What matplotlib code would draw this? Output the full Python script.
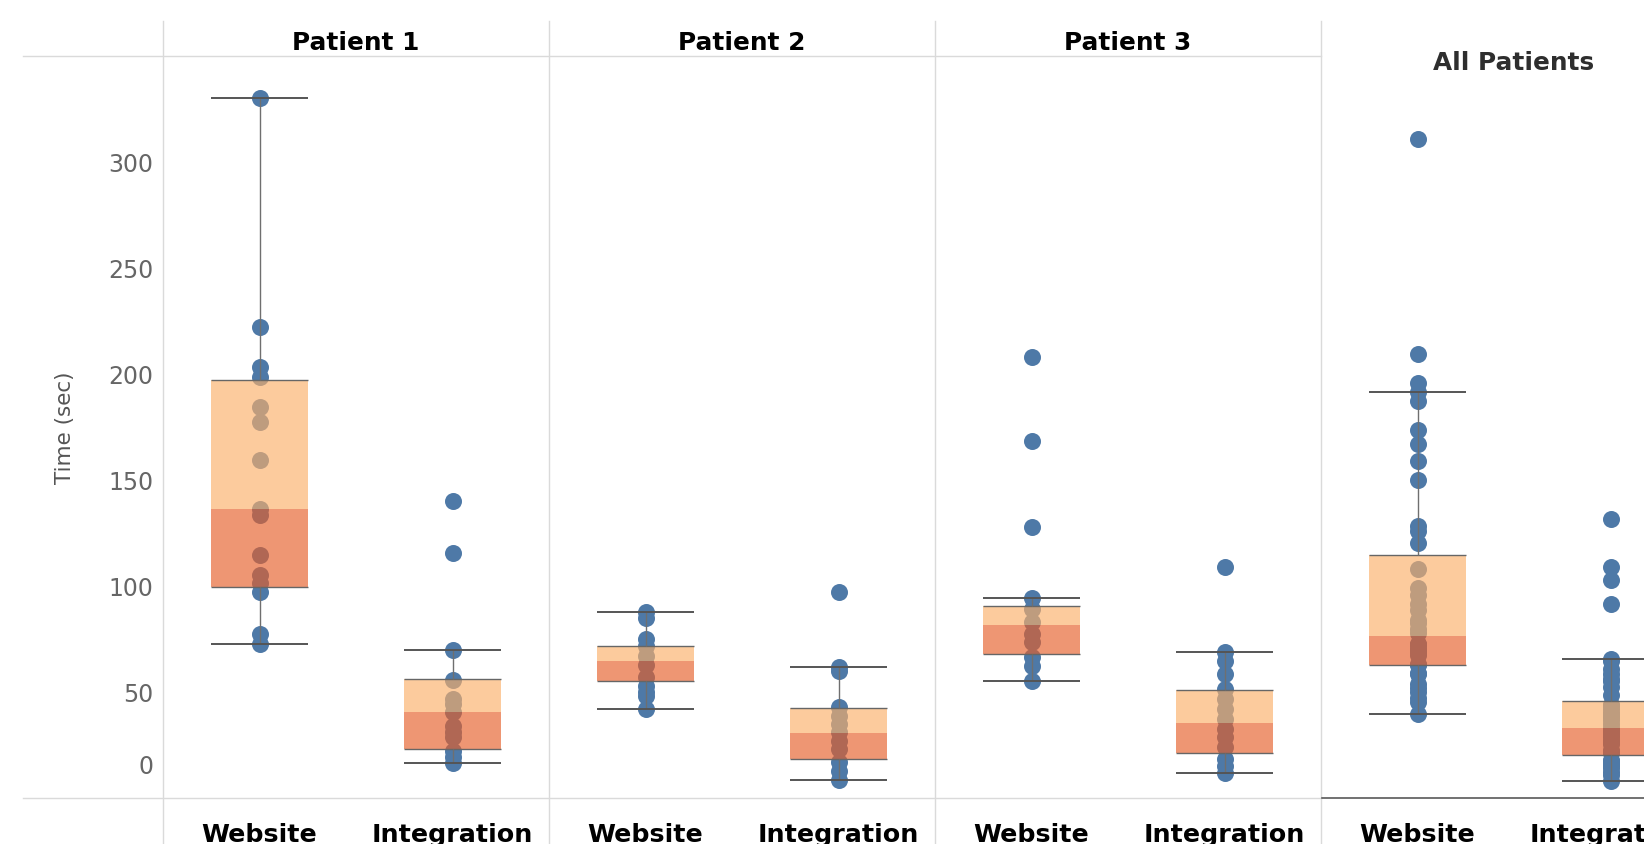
import matplotlib
matplotlib.use("Agg")
import matplotlib.pyplot as plt
from matplotlib.lines import Line2D
from matplotlib.transforms import ScaledTranslation, blended_transform_factory

# ---- data (seconds) ---------------------------------------------------------
panels = ["Patient 1", "Patient 2", "Patient 3", "All Patients"]
categories = ["Website", "Integration"]
y_ticks = [0, 50, 100, 150, 200, 250, 300]

p1_website = [329.8, 221.9, 203.1, 198.3, 184.2, 177.1, 159.2, 136.1, 133.3,
              114.4, 105.0, 101.2, 96.9, 77.1, 72.4]
p1_integration = [139.7, 115.3, 69.5, 55.4, 46.5, 44.1, 40.2, 33.9, 30.8,
                  28.4, 22.1, 19.0, 16.1]
p2_website = [87.4, 84.5, 74.8, 71.3, 66.9, 62.5, 56.7, 52.7, 49.9, 47.7, 41.9]
p2_integration = [97.1, 61.6, 59.5, 42.5, 38.6, 34.7, 30.8, 26.8, 22.9, 16.6,
                  12.6, 8.4]
p3_website = [207.6, 168.3, 127.5, 94.0, 88.9, 82.6, 77.1, 73.2, 66.1, 61.9, 54.8]
p3_integration = [108.9, 68.5, 64.5, 58.3, 51.2, 46.5, 41.7, 37.0, 32.3, 28.4,
                  23.7, 18.2, 14.7, 11.4]

# box-plot summaries per panel (Patient 1, 2, 3, All)
website_low = [72.4, 41.9, 54.8, 41.9]
website_q1 = [99.3, 54.8, 67.7, 66.2]
website_median = [136.1, 64.5, 81.4, 80.8]
website_q3 = [196.9, 71.6, 90.5, 121.2]
website_high = [329.8, 87.4, 94.0, 203.1]

integration_low = [16.1, 8.4, 11.4, 8.4]
integration_q1 = [23.0, 18.0, 21.0, 21.2]
integration_median = [40.2, 30.6, 35.0, 34.6]
integration_q3 = [55.7, 42.1, 50.9, 48.4]
integration_high = [69.5, 61.6, 68.5, 69.5]

website_points = [p1_website, p2_website, p3_website,
                  p1_website + p2_website + p3_website]
integration_points = [p1_integration, p2_integration, p3_integration,
                      p1_integration + p2_integration + p3_integration]

# ---- style -------------------------------------------------------------------
BLUE = "#4e79a7"
LIGHT = "#fbaf69"
DARK = "#e55e28"
BOX_ALPHA = 0.65
GRID = "#dadada"

W, H = 1644, 845
fig = plt.figure(figsize=(W / 100, H / 100), dpi=100)
fig.patch.set_facecolor("white")


def fx(x):
    return x / W


def fy(y):
    return 1 - y / H


pane_left = [163, 549, 935, 1321]
pane_w = 386
top_px, bottom_px = 57, 798.5
y_max = [349.8, 349.8, 349.8, 371.3]

summaries = [
    (website_points, website_low, website_q1, website_median, website_q3, website_high),
    (integration_points, integration_low, integration_q1, integration_median,
     integration_q3, integration_high),
]

axes = []
for i, name in enumerate(panels):
    ax = fig.add_axes([fx(pane_left[i]), fy(bottom_px), pane_w / W,
                       (bottom_px - top_px) / H])
    ax.set_facecolor("none")
    ax.set_xlim(-0.5, 1.5)
    ax.set_ylim(0, y_max[i])
    for s in ax.spines.values():
        s.set_visible(False)
    ax.set_xticks([])
    if i == 0:
        ax.set_yticks(y_ticks)
        ax.set_yticklabels([str(t) for t in y_ticks])
        ax.tick_params(axis="y", length=0, pad=7.0, labelsize=17,
                       labelcolor="#666666")
    else:
        ax.set_yticks([])

    for j, (pts, lo, q1, med, q3, hi) in enumerate(summaries):
        vals = pts[i]
        ax.scatter([j] * len(vals), vals, s=150, color=BLUE, linewidths=0,
                   zorder=2, clip_on=False)
        ax.bar(j, med[i] - q1[i], bottom=q1[i], width=0.5, color=DARK,
               alpha=BOX_ALPHA, linewidth=0, zorder=3)
        ax.bar(j, q3[i] - med[i], bottom=med[i], width=0.5, color=LIGHT,
               alpha=BOX_ALPHA, linewidth=0, zorder=3)
        ax.hlines([q1[i], q3[i]], j - 0.25, j + 0.25, color="#666666",
                  linewidth=1.0, zorder=4)
        ax.vlines([j, j], [lo[i], q3[i]], [q1[i], hi[i]], color="#6f6f6f",
                  linewidth=1.0, zorder=4)
        ax.hlines([lo[i], hi[i]], j - 0.25, j + 0.25, color="#555555",
                  linewidth=1.4, zorder=4)

    # category labels below each pane
    tr = blended_transform_factory(ax.transData, fig.transFigure)
    for j, cat in enumerate(categories):
        ax.text(j, 3 / H, cat, transform=tr, ha="center", va="baseline",
                fontsize=18.3, fontweight="bold", color="black", clip_on=False)
    axes.append(ax)

# nudge the "0" label inside the pane
for lab in axes[0].get_yticklabels():
    if lab.get_text() == "0":
        lab.set_transform(lab.get_transform()
                          + ScaledTranslation(0, 33.5 / 100, fig.dpi_scale_trans))

# pane headers
for i, name in enumerate(panels[:3]):
    fig.text(fx(pane_left[i] + pane_w / 2), fy(49.5), name, ha="center",
             va="baseline", fontsize=17.8, fontweight="bold", color="black")
fig.text(fx(pane_left[3] + pane_w / 2), fy(69.5), panels[3], ha="center",
         va="baseline", fontsize=17.8, fontweight="bold", color="#2e2e2e")

fig.text(fx(65), fy(428), "Time (sec)", rotation=90, ha="center", va="center",
         fontsize=15.5, color="#555555")

# pane dividers and header / footer rules
for x in pane_left:
    fig.add_artist(Line2D([fx(x), fx(x)], [fy(22), 0], color=GRID, lw=1.0))
fig.add_artist(Line2D([fx(23), fx(1321)], [fy(57), fy(57)], color=GRID, lw=1.0))
fig.add_artist(Line2D([fx(23), fx(1321)], [fy(798.5), fy(798.5)], color=GRID, lw=1.0))
fig.add_artist(Line2D([fx(1322), 1], [fy(799), fy(799)], color="#4a4a4a", lw=1.1))

fig.savefig("out.png", dpi=100, facecolor="white")
